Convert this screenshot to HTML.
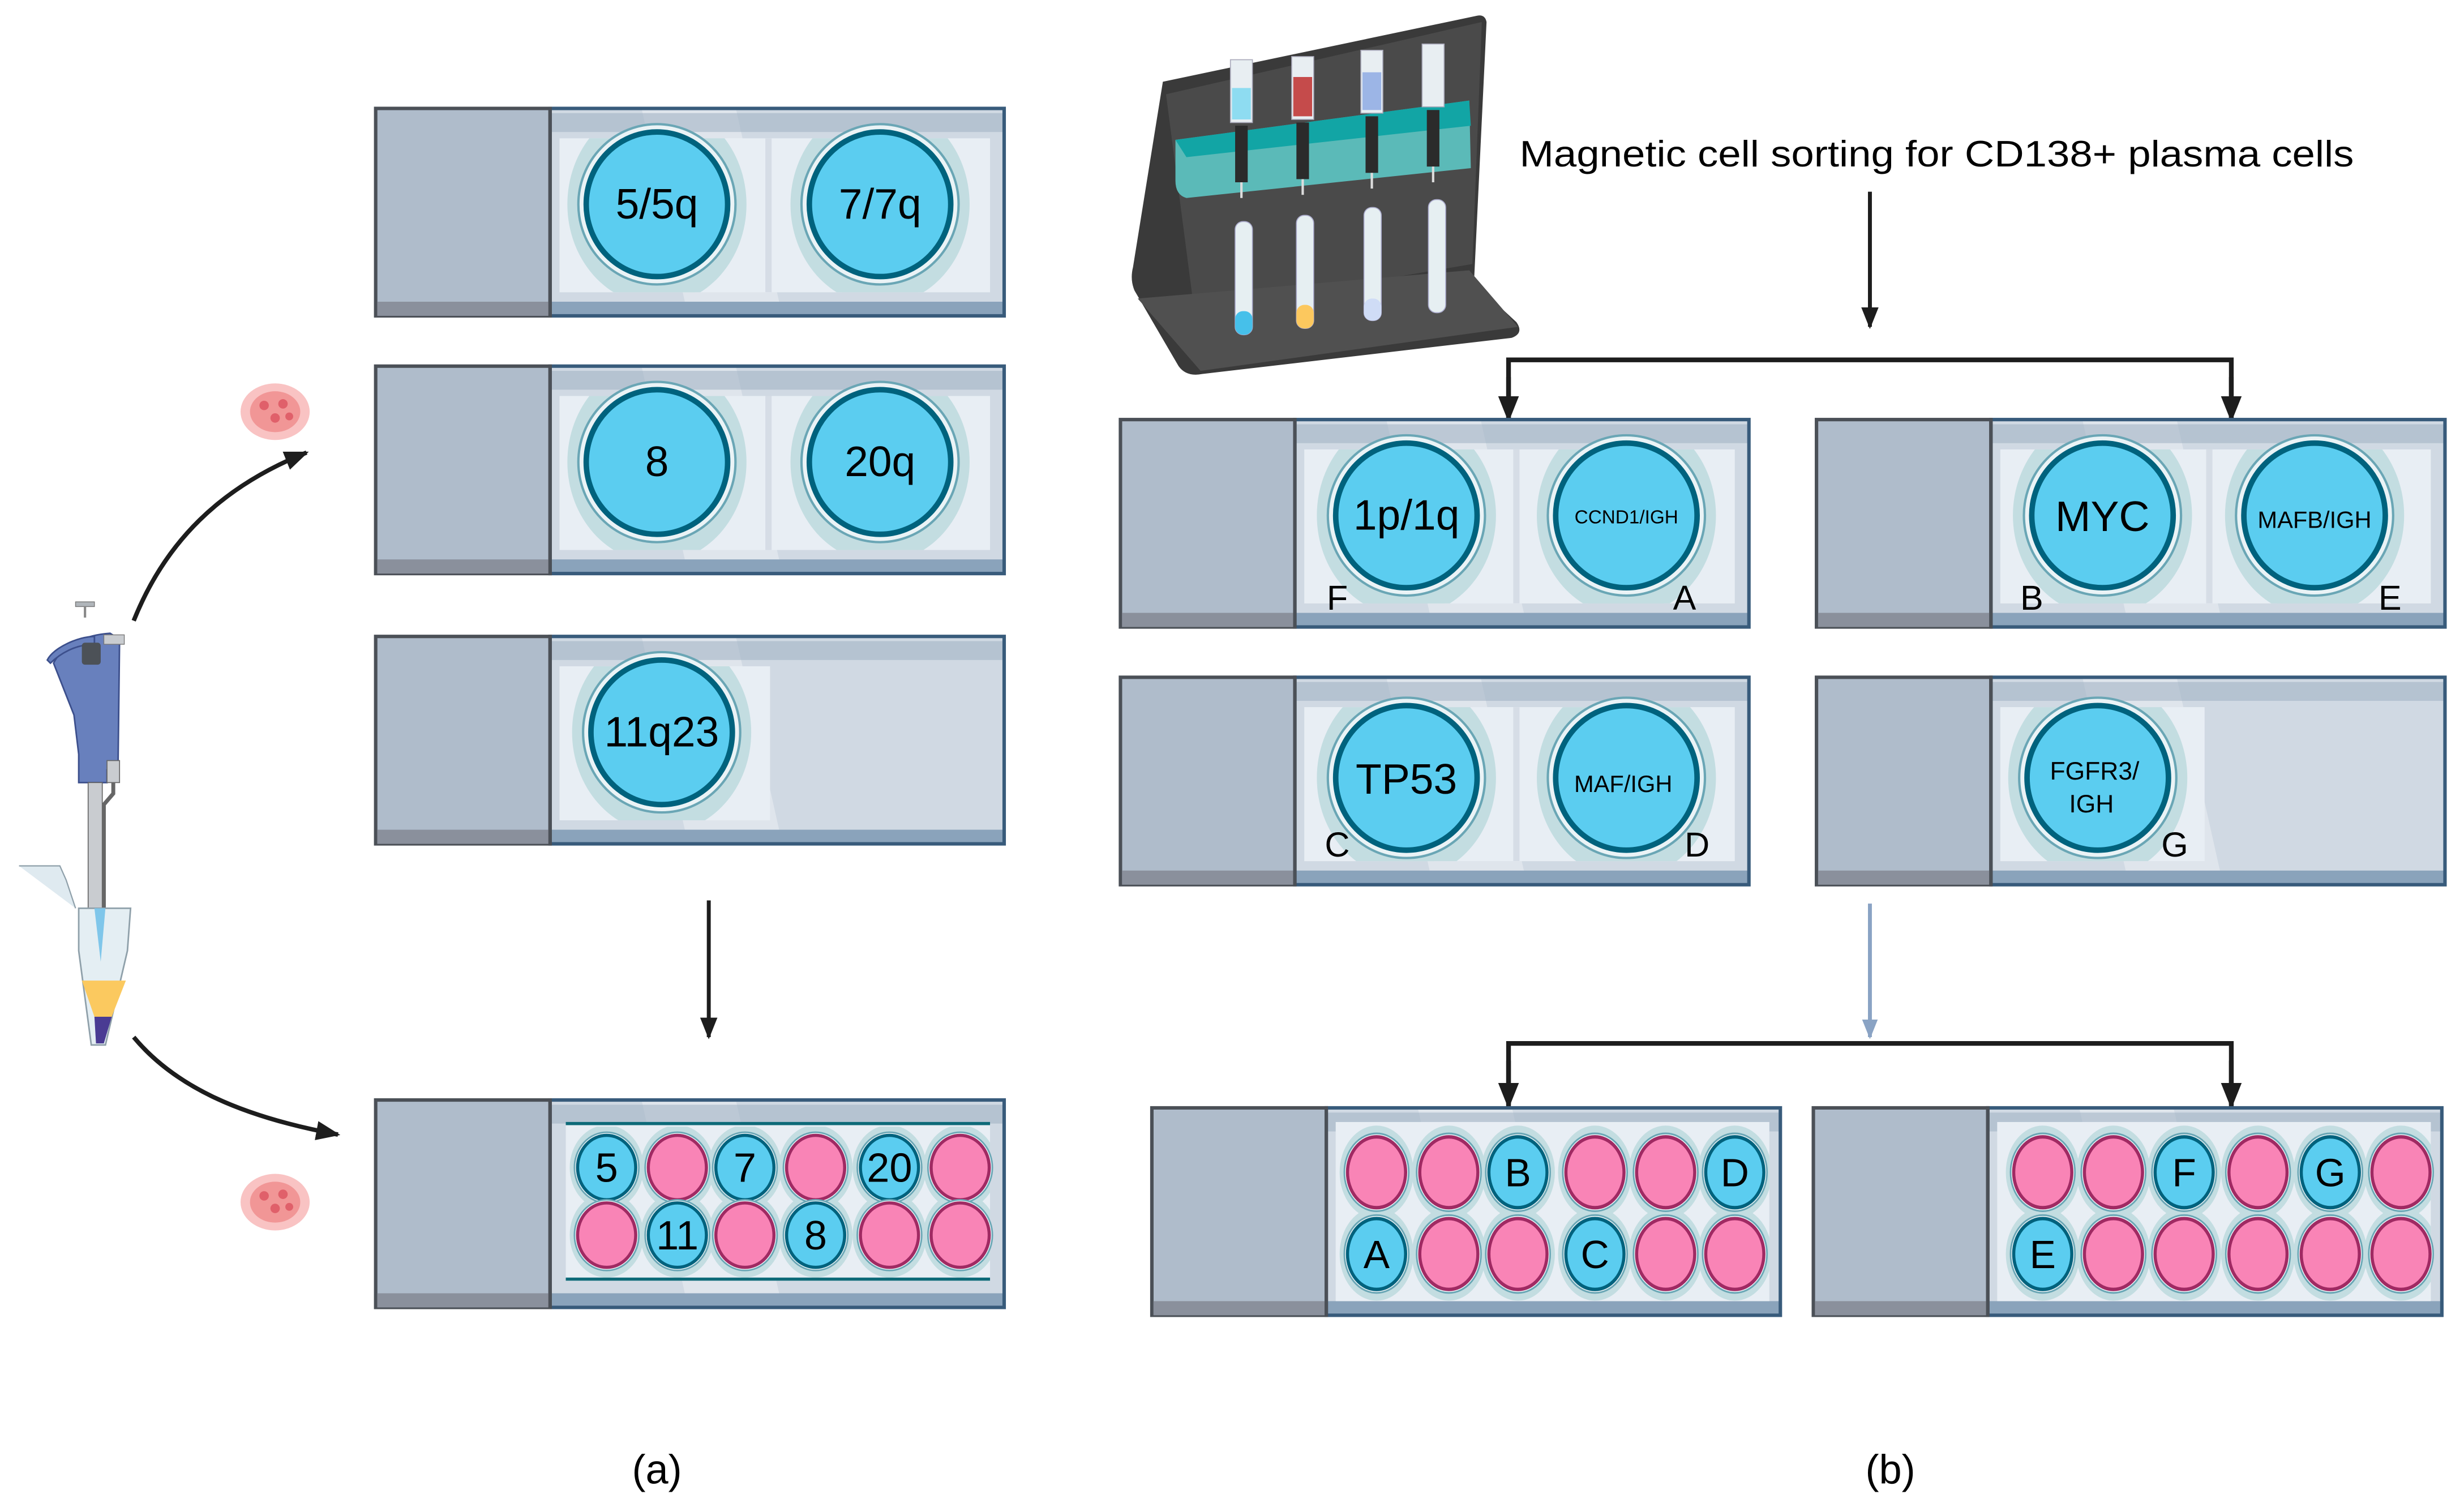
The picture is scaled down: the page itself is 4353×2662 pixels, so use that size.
<!DOCTYPE html>
<html><head><meta charset="utf-8"><style>
html,body{margin:0;padding:0;background:#fff;}
svg{display:block;}
text{font-family:"Liberation Sans",Arial,sans-serif;fill:#000;}
</style></head><body>
<svg width="4353" height="2662" viewBox="0 0 1568 959" xmlns="http://www.w3.org/2000/svg">
<defs>
  <clipPath id="c2"><rect x="118" y="20" width="274" height="98"/></clipPath>
  <clipPath id="c1"><rect x="118" y="20" width="134" height="98"/></clipPath>
  <clipPath id="cs"><rect x="122" y="18" width="270" height="96"/></clipPath>
  <clipPath id="cb"><rect x="118" y="10" width="276" height="114"/></clipPath>
  <symbol id="slide" overflow="visible">
    <rect x="0" y="0" width="402" height="134" fill="#d0d9e3"/>
    <polygon points="170,0 230,0 260,134 200,134" fill="#dfe5ec"/>
    <rect x="0" y="4" width="402" height="12" fill="#9fb0c3" opacity="0.55"/>
    <rect x="0" y="124" width="402" height="10" fill="#8aa3bb"/>
    <rect x="112" y="1" width="289" height="132" fill="none" stroke="#385b7b" stroke-width="2.2"/>
    <rect x="1" y="1" width="111" height="132" fill="#afbccb" stroke="#4b5057" stroke-width="2.2"/>
    <rect x="2" y="124" width="109" height="9" fill="#8a909c"/>
    <line x1="112" y1="0" x2="112" y2="134" stroke="#4b5057" stroke-width="2.2"/>
  </symbol>
  <symbol id="halo" overflow="visible">
    <ellipse cx="0" cy="0" rx="57" ry="64" fill="#c3dde1"/>
  </symbol>
  <symbol id="bw" overflow="visible">
    <ellipse cx="0" cy="0" rx="50" ry="51" fill="#eaf3f6" stroke="#6aa6b5" stroke-width="1.5"/>
    <ellipse cx="0" cy="0" rx="45" ry="46" fill="#5bcdf0" stroke="#00627d" stroke-width="3.5"/>
  </symbol>
  <symbol id="sb" overflow="visible">
    <ellipse cx="0" cy="0" rx="20.5" ry="22.5" fill="#eef5f7" stroke="#6aa6b5" stroke-width="1"/>
    <ellipse cx="0" cy="0" rx="18.5" ry="20.5" fill="#5bcdf0" stroke="#00627d" stroke-width="2"/>
  </symbol>
  <symbol id="sp" overflow="visible">
    <ellipse cx="0" cy="0" rx="20.5" ry="22.5" fill="#eef5f7" stroke="#6aa6b5" stroke-width="1"/>
    <ellipse cx="0" cy="0" rx="18.5" ry="20.5" fill="#f984b6" stroke="#a02a63" stroke-width="2"/>
  </symbol>
  <symbol id="sh" overflow="visible">
    <ellipse cx="0" cy="0" rx="23.5" ry="27" fill="#c3dde1"/>
  </symbol>
  <marker id="ah" viewBox="0 0 10 10" refX="9" refY="5" markerWidth="5.5" markerHeight="5.5" orient="auto" markerUnits="strokeWidth">
    <path d="M0,1 L10,5 L0,9 Z" fill="#1d1d1d"/>
  </marker>
  <marker id="ahg" viewBox="0 0 10 10" refX="9" refY="5" markerWidth="5" markerHeight="5" orient="auto" markerUnits="strokeWidth">
    <path d="M0,1 L10,5 L0,9 Z" fill="#8aa3c4"/>
  </marker>
</defs>

<!-- ===== Panel (a) ===== -->
<g transform="translate(238,68)">
  <use href="#slide"/>
  <rect x="118" y="20" width="274" height="98" fill="#e8eef4"/>
  <g clip-path="url(#c2)"><use href="#halo" x="180" y="62"/><use href="#halo" x="322" y="62"/>
    <use href="#halo" x="180" y="176"/><use href="#halo" x="322" y="176"/><use href="#halo" x="40" y="62"/><use href="#halo" x="462" y="62"/>
    <line x1="251" y1="20" x2="251" y2="118" stroke="#d6dde6" stroke-width="4"/></g>
  <use href="#bw" x="180" y="62"/><use href="#bw" x="322" y="62"/>
  <text x="180" y="71" font-size="27" text-anchor="middle">5/5q</text>
  <text x="322" y="71" font-size="27" text-anchor="middle">7/7q</text>
</g>
<g transform="translate(238,232)">
  <use href="#slide"/>
  <rect x="118" y="20" width="274" height="98" fill="#e8eef4"/>
  <g clip-path="url(#c2)"><use href="#halo" x="180" y="62"/><use href="#halo" x="322" y="62"/>
    <use href="#halo" x="180" y="176"/><use href="#halo" x="322" y="176"/><use href="#halo" x="40" y="62"/><use href="#halo" x="462" y="62"/>
    <line x1="251" y1="20" x2="251" y2="118" stroke="#d6dde6" stroke-width="4"/></g>
  <use href="#bw" x="180" y="62"/><use href="#bw" x="322" y="62"/>
  <text x="180" y="71" font-size="27" text-anchor="middle">8</text>
  <text x="322" y="71" font-size="27" text-anchor="middle">20q</text>
</g>
<g transform="translate(238,404)">
  <use href="#slide"/>
  <rect x="118" y="20" width="134" height="98" fill="#e8eef4"/>
  <g clip-path="url(#c1)"><use href="#halo" x="183" y="62"/><use href="#halo" x="183" y="176"/><use href="#halo" x="40" y="62"/><use href="#halo" x="326" y="62"/></g>
  <use href="#bw" x="183" y="62"/>
  <text x="183" y="71" font-size="27" text-anchor="middle">11q23</text>
</g>
<g transform="translate(238,699)">
  <use href="#slide"/>
  <rect x="122" y="16" width="270" height="100" fill="#e8eef4"/>
  <g clip-path="url(#cs)">
    <use href="#sh" x="148" y="44"/><use href="#sh" x="193" y="44"/><use href="#sh" x="236" y="44"/><use href="#sh" x="281" y="44"/><use href="#sh" x="328" y="44"/><use href="#sh" x="373" y="44"/>
    <use href="#sh" x="148" y="87"/><use href="#sh" x="193" y="87"/><use href="#sh" x="236" y="87"/><use href="#sh" x="281" y="87"/><use href="#sh" x="328" y="87"/><use href="#sh" x="373" y="87"/>
  </g>
  <use href="#sb" x="148" y="44"/><use href="#sp" x="193" y="44"/><use href="#sb" x="236" y="44"/><use href="#sp" x="281" y="44"/><use href="#sb" x="328" y="44"/><use href="#sp" x="373" y="44"/>
  <use href="#sp" x="148" y="87"/><use href="#sb" x="193" y="87"/><use href="#sp" x="236" y="87"/><use href="#sb" x="281" y="87"/><use href="#sp" x="328" y="87"/><use href="#sp" x="373" y="87"/>
  <line x1="122" y1="16" x2="392" y2="16" stroke="#0d6a78" stroke-width="2"/>
  <line x1="122" y1="115" x2="392" y2="115" stroke="#0d6a78" stroke-width="2"/>
  <text x="148" y="53" font-size="26" text-anchor="middle">5</text>
  <text x="236" y="53" font-size="26" text-anchor="middle">7</text>
  <text x="328" y="53" font-size="26" text-anchor="middle">20</text>
  <text x="193" y="96" font-size="26" text-anchor="middle">11</text>
  <text x="281" y="96" font-size="26" text-anchor="middle">8</text>
</g>
<line x1="451" y1="573" x2="451" y2="660" stroke="#1d1d1d" stroke-width="2.5" marker-end="url(#ah)"/>

<!-- pipette & tube -->
<g>
  <rect x="48" y="383" width="12" height="3" fill="#b0b5ba" stroke="#777" stroke-width="0.5"/>
  <line x1="54" y1="386" x2="54" y2="393" stroke="#888" stroke-width="1.5"/>
  <path d="M34,422 C40,410 55,404 70,403 L76,407 L75,490 L68,490 L68,498 L50,498 L50,480 L47,455 Z" fill="#6880bd" stroke="#3c4f8c" stroke-width="1"/>
  <path d="M30,420 C34,412 50,405 60,405 L60,410 C48,410 38,416 32,422 Z" fill="#6880bd" stroke="#3c4f8c" stroke-width="1"/>
  <rect x="52" y="409" width="12" height="14" rx="2" fill="#4c5157"/>
  <rect x="66" y="404" width="13" height="6" fill="#c9ccd0" stroke="#777" stroke-width="0.5"/>
  <rect x="68" y="484" width="8" height="14" fill="#c9ccd0" stroke="#666" stroke-width="0.6"/>
  <rect x="56" y="498" width="9" height="80" fill="#c9ccd0" stroke="#666" stroke-width="0.6"/>
  <path d="M72,498 L72,505 L66,512 L66,578" fill="none" stroke="#666" stroke-width="2.5"/>
  <path d="M50,578 L83,578 L81,605 L67,665 L58,665 L50,605 Z" fill="#e4eef3" stroke="#8fa0aa" stroke-width="1"/>
  <path d="M60,578 L67,578 L64,612 Z" fill="#7fc6ea"/>
  <path d="M52,624 L80,624 L71,647 L60,647 Z" fill="#fbc95f"/>
  <path d="M60,647 L71,647 L66,664 L61,664 Z" fill="#4a3b93"/>
  <path d="M12,551 L38,551 L42,560 L48,578" fill="#dfeaf0" stroke="#8fa0aa" stroke-width="0.8"/>
  <path d="M85,395 C105,345 140,310 195,288" fill="none" stroke="#1d1d1d" stroke-width="2.8" marker-end="url(#ah)"/>
  <path d="M85,660 C110,690 150,710 215,722" fill="none" stroke="#1d1d1d" stroke-width="2.8" marker-end="url(#ah)"/>
  <g>
    <ellipse cx="175" cy="262" rx="22" ry="18" fill="#f7b4b4" opacity="0.8"/>
    <ellipse cx="175" cy="262" rx="16" ry="13" fill="#f19696"/>
    <circle cx="168" cy="258" r="3" fill="#e0606a"/><circle cx="180" cy="257" r="3" fill="#e0606a"/><circle cx="175" cy="266" r="3" fill="#e0606a"/><circle cx="184" cy="265" r="2.5" fill="#e0606a"/>
    <ellipse cx="175" cy="765" rx="22" ry="18" fill="#f7b4b4" opacity="0.8"/>
    <ellipse cx="175" cy="765" rx="16" ry="13" fill="#f19696"/>
    <circle cx="168" cy="761" r="3" fill="#e0606a"/><circle cx="180" cy="760" r="3" fill="#e0606a"/><circle cx="175" cy="769" r="3" fill="#e0606a"/><circle cx="184" cy="768" r="2.5" fill="#e0606a"/>
  </g>
</g>

<!-- ===== Panel (b) ===== -->
<g>
  <path d="M740,52 L940,10 Q945,9 946,14 L938,180 L965,205 Q970,212 962,215 L765,238 Q755,240 750,233 L722,185 Q719,178 721,170 Z" fill="#3a3a3a"/>
  <path d="M742,60 L943,14 L937,168 L760,198 Z" fill="#4a4a4a"/>
  <path d="M724,190 L935,172 L966,208 L764,236 Z" fill="#505050"/>
  <path d="M748,89 L935,64 L936,107 L755,126 Q748,124 748,115 Z" fill="#5bbab8"/>
  <path d="M748,89 L935,64 L936,80 L755,100 Z" fill="#12a5a5"/>
  <g fill="#e8eef2" stroke="#aab" stroke-width="0.6">
    <rect x="783" y="38" width="14" height="40"/><rect x="822" y="36" width="14" height="40"/><rect x="866" y="32" width="14" height="40"/><rect x="905" y="28" width="14" height="40"/>
  </g>
  <rect x="784" y="56" width="12" height="20" fill="#8edcf1"/>
  <rect x="823" y="49" width="12" height="25" fill="#c54b4b"/>
  <rect x="867" y="46" width="12" height="24" fill="#9cb5e6"/>
  <g fill="#2b2b2b"><rect x="786" y="80" width="8" height="36"/><rect x="825" y="78" width="8" height="36"/><rect x="869" y="74" width="8" height="36"/><rect x="908" y="70" width="8" height="36"/></g>
  <g stroke="#ddd" stroke-width="1.5"><line x1="790" y1="116" x2="790" y2="126"/><line x1="829" y1="114" x2="829" y2="124"/><line x1="873" y1="110" x2="873" y2="120"/><line x1="912" y1="106" x2="912" y2="116"/></g>
  <g fill="#e6eff2" stroke="#aac" stroke-width="0.6">
    <rect x="786" y="141" width="11" height="72" rx="5"/><rect x="825" y="137" width="11" height="72" rx="5"/><rect x="868" y="132" width="11" height="72" rx="5"/><rect x="909" y="127" width="11" height="72" rx="5"/>
  </g>
  <rect x="786" y="198" width="11" height="15" rx="5" fill="#46c0ea"/>
  <rect x="825" y="194" width="11" height="15" rx="5" fill="#fcc85e"/>
  <rect x="868" y="190" width="11" height="14" rx="5" fill="#cfdcf6"/>
</g>
<text x="967" y="106" font-size="23.5" textLength="531" lengthAdjust="spacingAndGlyphs">Magnetic cell sorting for CD138+ plasma cells</text>
<line x1="1190" y1="122" x2="1190" y2="208" stroke="#1d1d1d" stroke-width="2.5" marker-end="url(#ah)"/>
<path d="M960,266 L960,229 L1420,229 L1420,266" fill="none" stroke="#1d1d1d" stroke-width="3"/>
<line x1="960" y1="240" x2="960" y2="267" stroke="#1d1d1d" stroke-width="3" marker-end="url(#ah)"/>
<line x1="1420" y1="240" x2="1420" y2="267" stroke="#1d1d1d" stroke-width="3" marker-end="url(#ah)"/>

<g transform="translate(712,266)">
  <use href="#slide"/>
  <rect x="118" y="20" width="274" height="98" fill="#e8eef4"/>
  <g clip-path="url(#c2)"><use href="#halo" x="183" y="62"/><use href="#halo" x="323" y="62"/><use href="#halo" x="183" y="176"/><use href="#halo" x="323" y="176"/><use href="#halo" x="43" y="62"/><use href="#halo" x="463" y="62"/>
    <line x1="253" y1="20" x2="253" y2="118" stroke="#d6dde6" stroke-width="4"/></g>
  <use href="#bw" x="183" y="62"/><use href="#bw" x="323" y="62"/>
  <text x="183" y="71" font-size="27" text-anchor="middle">1p/1q</text>
  <text x="323" y="67" font-size="12" text-anchor="middle">CCND1/IGH</text>
  <text x="139" y="122" font-size="22" text-anchor="middle">F</text>
  <text x="360" y="122" font-size="22" text-anchor="middle">A</text>
</g>
<g transform="translate(1155,266)">
  <use href="#slide"/>
  <rect x="118" y="20" width="274" height="98" fill="#e8eef4"/>
  <g clip-path="url(#c2)"><use href="#halo" x="183" y="62"/><use href="#halo" x="318" y="62"/><use href="#halo" x="183" y="176"/><use href="#halo" x="318" y="176"/><use href="#halo" x="43" y="62"/><use href="#halo" x="458" y="62"/>
    <line x1="251" y1="20" x2="251" y2="118" stroke="#d6dde6" stroke-width="4"/></g>
  <use href="#bw" x="183" y="62"/><use href="#bw" x="318" y="62"/>
  <text x="183" y="72" font-size="27" text-anchor="middle">MYC</text>
  <text x="318" y="70" font-size="15" text-anchor="middle">MAFB/IGH</text>
  <text x="138" y="122" font-size="22" text-anchor="middle">B</text>
  <text x="366" y="122" font-size="22" text-anchor="middle">E</text>
</g>
<g transform="translate(712,430)">
  <use href="#slide"/>
  <rect x="118" y="20" width="274" height="98" fill="#e8eef4"/>
  <g clip-path="url(#c2)"><use href="#halo" x="183" y="65"/><use href="#halo" x="323" y="65"/><use href="#halo" x="183" y="179"/><use href="#halo" x="323" y="179"/><use href="#halo" x="43" y="65"/><use href="#halo" x="463" y="65"/>
    <line x1="253" y1="20" x2="253" y2="118" stroke="#d6dde6" stroke-width="4"/></g>
  <use href="#bw" x="183" y="65"/><use href="#bw" x="323" y="65"/>
  <text x="183" y="75" font-size="27" text-anchor="middle">TP53</text>
  <text x="321" y="74" font-size="15" text-anchor="middle">MAF/IGH</text>
  <text x="139" y="115" font-size="22" text-anchor="middle">C</text>
  <text x="368" y="115" font-size="22" text-anchor="middle">D</text>
</g>
<g transform="translate(1155,430)">
  <use href="#slide"/>
  <rect x="118" y="20" width="130" height="98" fill="#e8eef4"/>
  <g clip-path="url(#c1)"><use href="#halo" x="180" y="65"/><use href="#halo" x="180" y="179"/><use href="#halo" x="40" y="65"/><use href="#halo" x="320" y="65"/></g>
  <use href="#bw" x="180" y="65"/>
  <text x="178" y="66" font-size="16" text-anchor="middle">FGFR3/</text>
  <text x="176" y="87" font-size="16" text-anchor="middle">IGH</text>
  <text x="229" y="115" font-size="22" text-anchor="middle">G</text>
</g>

<line x1="1190" y1="575" x2="1190" y2="660" stroke="#8aa3c4" stroke-width="2.5" marker-end="url(#ahg)"/>
<path d="M960,703 L960,664 L1420,664 L1420,703" fill="none" stroke="#1d1d1d" stroke-width="3"/>
<line x1="960" y1="675" x2="960" y2="704" stroke="#1d1d1d" stroke-width="3" marker-end="url(#ah)"/>
<line x1="1420" y1="675" x2="1420" y2="704" stroke="#1d1d1d" stroke-width="3" marker-end="url(#ah)"/>

<g transform="translate(732,704)">
  <use href="#slide"/>
  <rect x="118" y="10" width="276" height="114" fill="#e8eef4"/>
  <g clip-path="url(#cb)">
    <g transform="translate(144,42) scale(1,1.1)"><use href="#sh"/></g><g transform="translate(190,42) scale(1,1.1)"><use href="#sh"/></g><g transform="translate(234,42) scale(1,1.1)"><use href="#sh"/></g><g transform="translate(283,42) scale(1,1.1)"><use href="#sh"/></g><g transform="translate(328,42) scale(1,1.1)"><use href="#sh"/></g><g transform="translate(372,42) scale(1,1.1)"><use href="#sh"/></g>
    <g transform="translate(144,94) scale(1,1.1)"><use href="#sh"/></g><g transform="translate(190,94) scale(1,1.1)"><use href="#sh"/></g><g transform="translate(234,94) scale(1,1.1)"><use href="#sh"/></g><g transform="translate(283,94) scale(1,1.1)"><use href="#sh"/></g><g transform="translate(328,94) scale(1,1.1)"><use href="#sh"/></g><g transform="translate(372,94) scale(1,1.1)"><use href="#sh"/></g>
  </g>
  <g transform="translate(144,42) scale(1,1.1)"><use href="#sp"/></g>
  <g transform="translate(190,42) scale(1,1.1)"><use href="#sp"/></g>
  <g transform="translate(234,42) scale(1,1.1)"><use href="#sb"/></g>
  <g transform="translate(283,42) scale(1,1.1)"><use href="#sp"/></g>
  <g transform="translate(328,42) scale(1,1.1)"><use href="#sp"/></g>
  <g transform="translate(372,42) scale(1,1.1)"><use href="#sb"/></g>
  <g transform="translate(144,94) scale(1,1.1)"><use href="#sb"/></g>
  <g transform="translate(190,94) scale(1,1.1)"><use href="#sp"/></g>
  <g transform="translate(234,94) scale(1,1.1)"><use href="#sp"/></g>
  <g transform="translate(283,94) scale(1,1.1)"><use href="#sb"/></g>
  <g transform="translate(328,94) scale(1,1.1)"><use href="#sp"/></g>
  <g transform="translate(372,94) scale(1,1.1)"><use href="#sp"/></g>
  <text x="234" y="51" font-size="25" text-anchor="middle">B</text>
  <text x="372" y="51" font-size="25" text-anchor="middle">D</text>
  <text x="144" y="103" font-size="25" text-anchor="middle">A</text>
  <text x="283" y="103" font-size="25" text-anchor="middle">C</text>
</g>
<g transform="translate(1153,704)">
  <use href="#slide"/>
  <rect x="118" y="10" width="276" height="114" fill="#e8eef4"/>
  <g clip-path="url(#cb)">
    <g transform="translate(147,42) scale(1,1.1)"><use href="#sh"/></g><g transform="translate(192,42) scale(1,1.1)"><use href="#sh"/></g><g transform="translate(237,42) scale(1,1.1)"><use href="#sh"/></g><g transform="translate(284,42) scale(1,1.1)"><use href="#sh"/></g><g transform="translate(330,42) scale(1,1.1)"><use href="#sh"/></g><g transform="translate(375,42) scale(1,1.1)"><use href="#sh"/></g>
    <g transform="translate(147,94) scale(1,1.1)"><use href="#sh"/></g><g transform="translate(192,94) scale(1,1.1)"><use href="#sh"/></g><g transform="translate(237,94) scale(1,1.1)"><use href="#sh"/></g><g transform="translate(284,94) scale(1,1.1)"><use href="#sh"/></g><g transform="translate(330,94) scale(1,1.1)"><use href="#sh"/></g><g transform="translate(375,94) scale(1,1.1)"><use href="#sh"/></g>
  </g>
  <g transform="translate(147,42) scale(1,1.1)"><use href="#sp"/></g>
  <g transform="translate(192,42) scale(1,1.1)"><use href="#sp"/></g>
  <g transform="translate(237,42) scale(1,1.1)"><use href="#sb"/></g>
  <g transform="translate(284,42) scale(1,1.1)"><use href="#sp"/></g>
  <g transform="translate(330,42) scale(1,1.1)"><use href="#sb"/></g>
  <g transform="translate(375,42) scale(1,1.1)"><use href="#sp"/></g>
  <g transform="translate(147,94) scale(1,1.1)"><use href="#sb"/></g>
  <g transform="translate(192,94) scale(1,1.1)"><use href="#sp"/></g>
  <g transform="translate(237,94) scale(1,1.1)"><use href="#sp"/></g>
  <g transform="translate(284,94) scale(1,1.1)"><use href="#sp"/></g>
  <g transform="translate(330,94) scale(1,1.1)"><use href="#sp"/></g>
  <g transform="translate(375,94) scale(1,1.1)"><use href="#sp"/></g>
  <text x="237" y="51" font-size="25" text-anchor="middle">F</text>
  <text x="330" y="51" font-size="25" text-anchor="middle">G</text>
  <text x="147" y="103" font-size="25" text-anchor="middle">E</text>
</g>

<text x="418" y="944" font-size="26" text-anchor="middle">(a)</text>
<text x="1203" y="944" font-size="26" text-anchor="middle">(b)</text>
</svg>
</body></html>
